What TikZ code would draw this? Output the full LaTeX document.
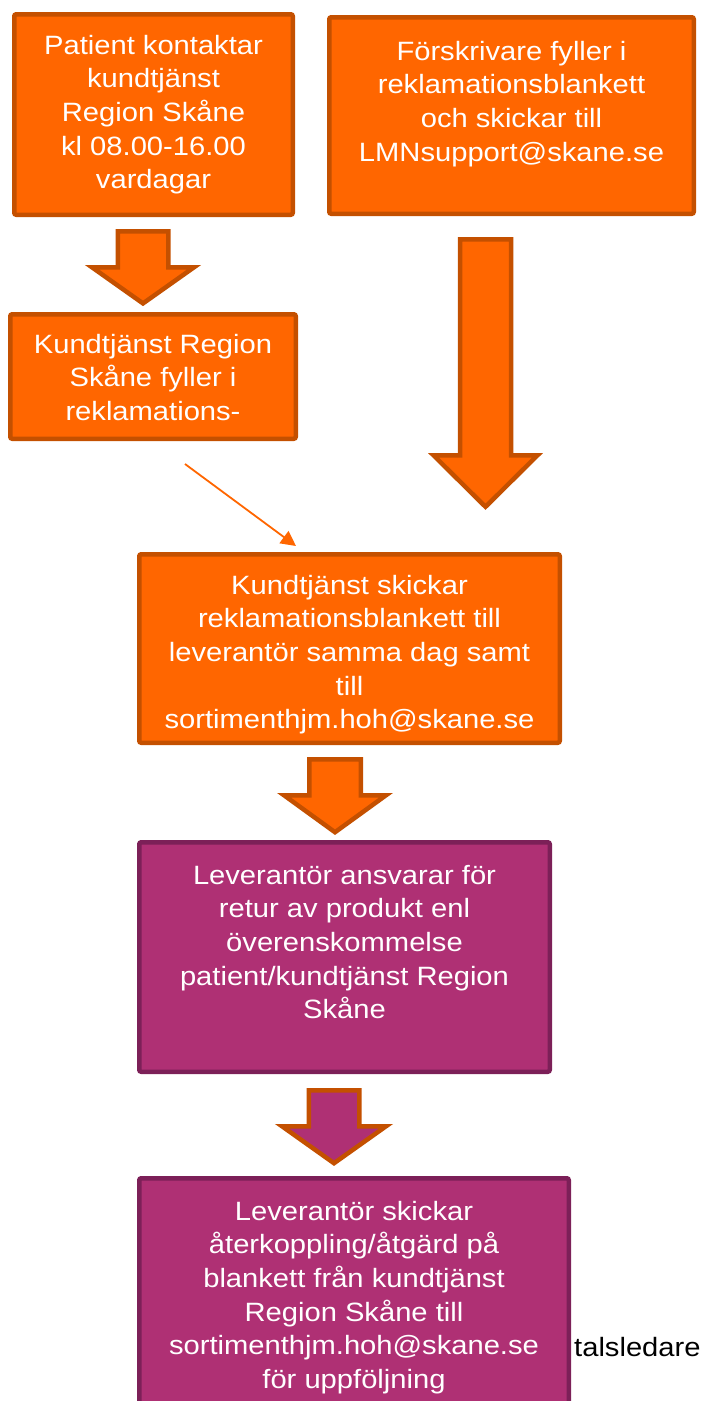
\documentclass[tikz,border=0pt]{standalone}
\usepackage{fontspec}
\newfontfamily\arialw[FakeStretch=1.1]{Liberation Sans}
\usetikzlibrary{arrows.meta}
\definecolor{orF}{RGB}{255,102,0}
\definecolor{orD}{RGB}{196,80,0}
\definecolor{puF}{RGB}{175,48,116}
\definecolor{puD}{RGB}{124,32,88}
\begin{document}
\begin{tikzpicture}[x=1pt,y=-1pt,
  obox/.style={rectangle, draw=orD, fill=orF, line width=4.5pt, rounded corners=2pt, inner sep=0pt},
  pbox/.style={rectangle, draw=puD, fill=puF, line width=4.5pt, rounded corners=2pt, inner sep=0pt},
  txt/.style={text=white, font=\arialw\fontsize{26.5}{33.7}\selectfont, inner sep=0pt, anchor=base},
  blk/.style={draw=orD, fill=orF, line width=4.5pt},
  blkp/.style={draw=orD, fill=puF, line width=4.5pt},
  thin/.style={draw=orF, line width=1.8pt, -{Triangle[length=15pt,width=15pt]}}
]
\useasboundingbox (0,0) rectangle (701,1401);
\clip (0,0) rectangle (701,1401);

% boxes
\node[obox, minimum width=278.5pt, minimum height=200.5pt] (b1) at (153.5,114.5) {};
\node[obox, minimum width=364.5pt, minimum height=196.5pt] (b2) at (511.5,115.5) {};
\node[obox, minimum width=285.5pt, minimum height=124.5pt] (b3) at (153,376.5) {};
\node[obox, minimum width=420.5pt, minimum height=188.5pt] (b4) at (349.5,648.5) {};
\node[pbox, minimum width=410.5pt, minimum height=229.5pt] (b5) at (344.5,957) {};

% partially hidden text behind last box
\node[txt, text=black, anchor=base west] (t7) at (574,1356) {talsledare};
\node[pbox, minimum width=429.5pt, minimum height=239.5pt] (b6) at (354,1298) {};

% texts
\node[txt] (t1) at (153.5,54) {\begin{tabular}[t]{@{}c@{}}Patient kontaktar\\ kundtjänst\\ Region Skåne\\ kl 08.00-16.00\\ vardagar\end{tabular}};
\node[txt] (t2) at (511.5,60) {\begin{tabular}[t]{@{}c@{}}Förskrivare fyller i\\ reklamationsblankett\\ och skickar till\\ LMNsupport@skane.se\end{tabular}};
\node[txt] (t3) at (153,353) {\begin{tabular}[t]{@{}c@{}}Kundtjänst Region\\ Skåne fyller i\\ reklamations-\end{tabular}};
\node[txt] (t4) at (349.5,594) {\begin{tabular}[t]{@{}c@{}}Kundtjänst skickar\\ reklamationsblankett till\\ leverantör samma dag samt\\ till\\ sortimenthjm.hoh@skane.se\end{tabular}};
\node[txt] (t5) at (344.5,884) {\begin{tabular}[t]{@{}c@{}}Leverantör ansvarar för\\ retur av produkt enl\\ överenskommelse\\ patient/kundtjänst Region\\ Skåne\end{tabular}};
\node[txt] (t6) at (354,1220) {\begin{tabular}[t]{@{}c@{}}Leverantör skickar\\ återkoppling/åtgärd på\\ blankett från kundtjänst\\ Region Skåne till\\ sortimenthjm.hoh@skane.se\\ för uppföljning\end{tabular}};

% block arrows
\draw[blk] (117.75,231.25) -- (168.25,231.25) -- (168.25,267.3) -- (194,267.3) -- (143,303.4) -- (92,267.3) -- (117.75,267.3) -- cycle;
\draw[blk] (460,239.25) -- (511,239.25) -- (511,455.3) -- (537.5,455.3) -- (485.5,506.8) -- (433.5,455.3) -- (460,455.3) -- cycle;
\draw[blk] (309.25,759.25) -- (360.75,759.25) -- (360.75,795.25) -- (386,795.25) -- (335,832.2) -- (284,795.25) -- (309.25,795.25) -- cycle;
\draw[blkp] (308.75,1090.25) -- (359.25,1090.25) -- (359.25,1126.25) -- (386,1126.25) -- (334,1163.2) -- (282,1126.25) -- (308.75,1126.25) -- cycle;

% thin arrow
\coordinate (ta) at (185,464);
\coordinate (tb) at (296,546);
\draw[thin] (ta) -- (tb);
\end{tikzpicture}
\end{document}
